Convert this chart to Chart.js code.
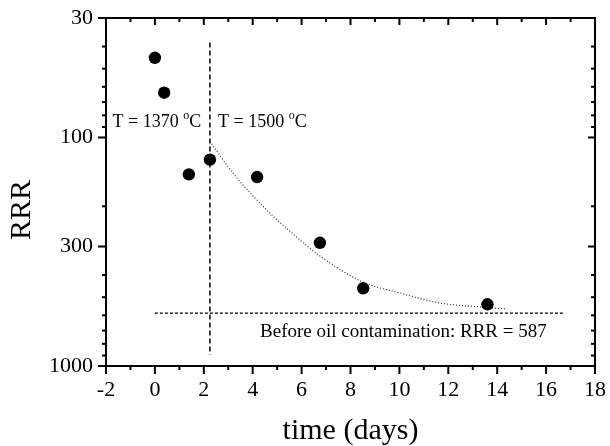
<!DOCTYPE html>
<html>
<head>
<meta charset="utf-8">
<script src="https://cdn.jsdelivr.net/npm/chart.js@4.4.0/dist/chart.umd.min.js"></script>
<style>
  body { margin: 0; background: #fff; }
  #wrap { width: 610px; height: 446px; position: relative; }
</style>
</head>
<body>
<div id="wrap"><canvas id="myChart"></canvas></div>
<script>
// measured points
const timeDays = [0, 0.38, 1.39, 2.25, 4.18, 6.75, 8.52, 13.6]
const rrrValues = [44.8, 63.7, 145, 125, 149, 289, 457, 537]

// dotted fit curve
const fitTime = [2.25, 3.19, 4.58, 5.61, 6.75, 8.51, 10.02, 11.66, 13.3, 14.4]
const fitRRR = [104, 143, 208, 262, 330, 429, 479, 530, 552, 563]

// temperature switch (vertical dashed line)
const switchTime = 2.25
const switchRRR = [38.4, 895]

// level before oil contamination
const baselineRRR = 587
const baselineTime = [0, 16.77]

// axis ticks
const xTicks = [-2, 0, 2, 4, 6, 8, 10, 12, 14, 16, 18]
const xMinorTicks = [-1, 1, 3, 5, 7, 9, 11, 13, 15, 17]
const yTicks = [30, 100, 300, 1000]
const yMinorTicks = [40, 50, 60, 70, 80, 90, 200, 400, 500, 600, 700, 800, 900]

const serif = "'Liberation Serif', 'Times New Roman', serif"

const pts = (xs, ys) => xs.map((x, i) => ({ x: x, y: ys[i] }))

// frame, ticks, titles and labels
const framePlugin = {
  id: "frame",
  afterDraw(chart) {
    const ctx = chart.ctx
    const a = chart.chartArea
    const xs = chart.scales.x
    const ys = chart.scales.y
    ctx.save()
    ctx.strokeStyle = "#000"
    ctx.lineWidth = 2
    ctx.strokeRect(a.left, a.top, a.right - a.left, a.bottom - a.top)

    const tick = (x1, y1, x2, y2) => {
      ctx.beginPath()
      ctx.moveTo(x1, y1)
      ctx.lineTo(x2, y2)
      ctx.stroke()
    }
    xTicks.forEach((v) => {
      const p = xs.getPixelForValue(v)
      tick(p, a.bottom, p, a.bottom + 8)
      tick(p, a.top, p, a.top + 7)
    })
    xMinorTicks.forEach((v) => {
      const p = xs.getPixelForValue(v)
      tick(p, a.bottom, p, a.bottom + 4)
      tick(p, a.top, p, a.top + 4)
    })
    yTicks.forEach((v) => {
      const p = ys.getPixelForValue(v)
      tick(a.left - 8, p, a.left, p)
      tick(a.right - 7, p, a.right, p)
    })
    yMinorTicks.forEach((v) => {
      const p = ys.getPixelForValue(v)
      tick(a.left - 4, p, a.left, p)
      tick(a.right - 4, p, a.right, p)
    })

    ctx.fillStyle = "#000"
    ctx.textBaseline = "alphabetic"
    ctx.textAlign = "left"

    const degLabel = (pre, t, r) => {
      let x = xs.getPixelForValue(t)
      const y = ys.getPixelForValue(r)
      ctx.font = "18px " + serif
      ctx.fillText(pre, x, y)
      x += ctx.measureText(pre).width
      ctx.font = "12px " + serif
      ctx.fillText("o", x, y - 8)
      x += ctx.measureText("o").width
      ctx.font = "18px " + serif
      ctx.fillText("C", x, y)
    }
    degLabel("T = 1370 ", -1.73, 89.8)
    degLabel("T = 1500 ", 2.58, 89.8)

    ctx.font = "19px " + serif
    ctx.fillText("Before oil contamination: RRR = 587", xs.getPixelForValue(4.3), ys.getPixelForValue(745))

    // axis titles
    ctx.font = "30px " + serif
    ctx.textAlign = "center"
    ctx.textBaseline = "middle"
    ctx.fillText("time (days)", (a.left + a.right) / 2, 431)
    ctx.translate(22, 210)
    ctx.rotate(-Math.PI / 2)
    ctx.fillText("RRR", 0, 0)
    ctx.restore()
  },
}

const ctx = document.getElementById("myChart").getContext("2d")
const myChart = new Chart(ctx, {
  type: "scatter",
  data: {
    datasets: [
      {
        label: "RRR",
        data: pts(timeDays, rrrValues),
        backgroundColor: "#000",
        borderWidth: 0,
        pointRadius: 6.2,
      },
      {
        label: "fit",
        data: pts(fitTime, fitRRR),
        showLine: true,
        borderColor: "#222",
        borderWidth: 1.1,
        borderDash: [1, 2],
        cubicInterpolationMode: "monotone",
        pointRadius: 0,
      },
      {
        label: "switch",
        data: pts([switchTime, switchTime], switchRRR),
        showLine: true,
        borderColor: "#000",
        borderWidth: 1.5,
        borderDash: [5, 3],
        pointRadius: 0,
      },
      {
        label: "before",
        data: pts(baselineTime, [baselineRRR, baselineRRR]),
        showLine: true,
        borderColor: "#000",
        borderWidth: 1.2,
        borderDash: [3, 2],
        pointRadius: 0,
      },
    ],
  },
  options: {
    responsive: true,
    maintainAspectRatio: false,
    animation: false,
    layout: { padding: { top: 18, right: 15, left: 0, bottom: 0 } },
    plugins: { legend: { display: false }, tooltip: { enabled: false } },
    scales: {
      x: {
        type: "linear",
        min: -2,
        max: 18,
        grid: { display: false, drawTicks: false },
        border: { display: false },
        afterBuildTicks: (s) => { s.ticks = xTicks.map((v) => ({ value: v })) },
        afterFit: (s) => {
          s.height = 80
          s.paddingLeft = 0
          s.paddingRight = 0
        },
        ticks: {
          padding: 11,
          color: "#000",
          font: { family: serif, size: 22 },
          callback: (v) => String(v),
        },
      },
      y: {
        type: "logarithmic",
        min: 30,
        max: 1000,
        reverse: true,
        grid: { display: false, drawTicks: false },
        border: { display: false },
        afterBuildTicks: (s) => { s.ticks = yTicks.map((v) => ({ value: v })) },
        afterFit: (s) => {
          s.width = 106
          s.paddingTop = 0
          s.paddingBottom = 0
        },
        ticks: {
          padding: 13,
          color: "#000",
          font: { family: serif, size: 22 },
          callback: (v) => String(v),
        },
      },
    },
  },
  plugins: [framePlugin],
})
</script>
</body>
</html>
